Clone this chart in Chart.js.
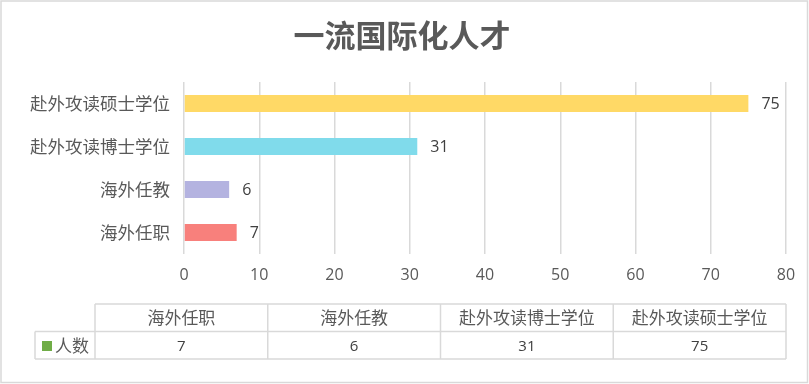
<!DOCTYPE html>
<html>
<head>
<meta charset="utf-8">
<script src="https://cdn.jsdelivr.net/npm/chart.js@4/dist/chart.umd.min.js"></script>
<style>
  html, body { margin: 0; padding: 0; background: #fff; }
  #wrap { width: 809px; height: 384px; position: relative; }
</style>
</head>
<body>
<div id="wrap"><canvas id="talentChart"></canvas></div>
<script>
const chartTitle = '一流国际化人才';
const seriesName = '人数';
const categories = ['海外任职', '海外任教', '赴外攻读博士学位', '赴外攻读硕士学位'];
const counts = [7, 6, 31, 75];
const barColors = ['#F8807C', '#B4B3E0', '#80DBEB', '#FFD966'];
const axisMin = 0, axisMax = 80, axisStep = 10;

const cjk = '"Noto Sans CJK SC", "Noto Sans", sans-serif';
const latin = '"Open Sans", "Noto Sans", sans-serif';
const textGrey = '#595959';
const lineGrey = '#d9d9d9';

// title, value labels, frame and the data table under the axis
const extras = {
    id: 'extras',
    afterDraw(chart) {
        const ctx = chart.ctx;
        const area = chart.chartArea;
        ctx.save();

        ctx.strokeStyle = lineGrey;
        ctx.lineWidth = 1.5;
        ctx.strokeRect(1, 1, 806.5, 381.5);

        ctx.fillStyle = textGrey;
        ctx.font = 'bold 31px ' + cjk;
        ctx.textAlign = 'center';
        ctx.textBaseline = 'middle';
        ctx.fillText(chartTitle, 402, 35);

        // value labels at bar ends
        const meta = chart.getDatasetMeta(0);
        ctx.font = '16px ' + latin;
        ctx.fillStyle = '#404040';
        ctx.textAlign = 'left';
        meta.data.forEach((bar, i) => {
            ctx.fillText(String(counts[i]), bar.x + 13, bar.y + 1);
        });

        // data table
        const left = 95, right = area.right;
        const top = 304, mid = 331.5, bottom = 359;
        const colW = (right - left) / categories.length;
        ctx.strokeStyle = lineGrey;
        ctx.lineWidth = 1.5;
        ctx.beginPath();
        ctx.moveTo(left, top); ctx.lineTo(right, top);
        ctx.moveTo(35, mid); ctx.lineTo(right, mid);
        ctx.moveTo(35, bottom); ctx.lineTo(right, bottom);
        ctx.moveTo(35, mid); ctx.lineTo(35, bottom);
        for (let i = 0; i <= categories.length; i++) {
            const x = left + colW * i;
            ctx.moveTo(x, top); ctx.lineTo(x, bottom);
        }
        ctx.stroke();

        ctx.textAlign = 'center';
        categories.forEach((c, i) => {
            const cx = left + colW * (i + 0.5);
            ctx.fillStyle = textGrey;
            ctx.font = '17px ' + cjk;
            ctx.fillText(c, cx, (top + mid) / 2);
            ctx.fillStyle = '#404040';
            ctx.font = '15px ' + latin;
            ctx.fillText(String(counts[i]), cx, (mid + bottom) / 2 + 1);
        });

        // legend key
        ctx.fillStyle = '#70AD47';
        ctx.fillRect(42, 341, 10, 10);
        ctx.fillStyle = textGrey;
        ctx.font = '17px ' + cjk;
        ctx.textAlign = 'left';
        ctx.fillText(seriesName, 55, (mid + bottom) / 2);

        ctx.restore();
    }
};

function LoadTalentChart() {
    const ctx = document.getElementById('talentChart').getContext('2d');
    new Chart(ctx, {
        type: 'bar',
        data: {
            labels: categories,
            datasets: [{
                label: seriesName,
                data: counts,
                backgroundColor: barColors,
                borderWidth: 0,
                barPercentage: 0.39,
                categoryPercentage: 1
            }]
        },
        options: {
            indexAxis: 'y',
            responsive: true,
            maintainAspectRatio: false,
            animation: false,
            layout: { padding: { left: 0, right: 23, top: 82, bottom: 100 } },
            plugins: {
                legend: { display: false },
                title: { display: false },
                tooltip: { enabled: false }
            },
            scales: {
                x: {
                    min: axisMin,
                    max: axisMax,
                    ticks: { stepSize: axisStep, padding: 12, color: textGrey, font: { family: latin, size: 16 } },
                    grid: { color: lineGrey, lineWidth: 1.5, drawTicks: false },
                    border: { display: false },
                    afterFit(scale) { scale.height = 30; }
                },
                y: {
                    reverse: true,
                    ticks: { padding: 14, color: textGrey, font: { family: cjk, size: 17.5 } },
                    grid: { display: false, drawTicks: false },
                    border: { display: false },
                    afterFit(scale) { scale.width = 184; }
                }
            }
        },
        plugins: [extras]
    });
}

LoadTalentChart();
</script>
</body>
</html>
